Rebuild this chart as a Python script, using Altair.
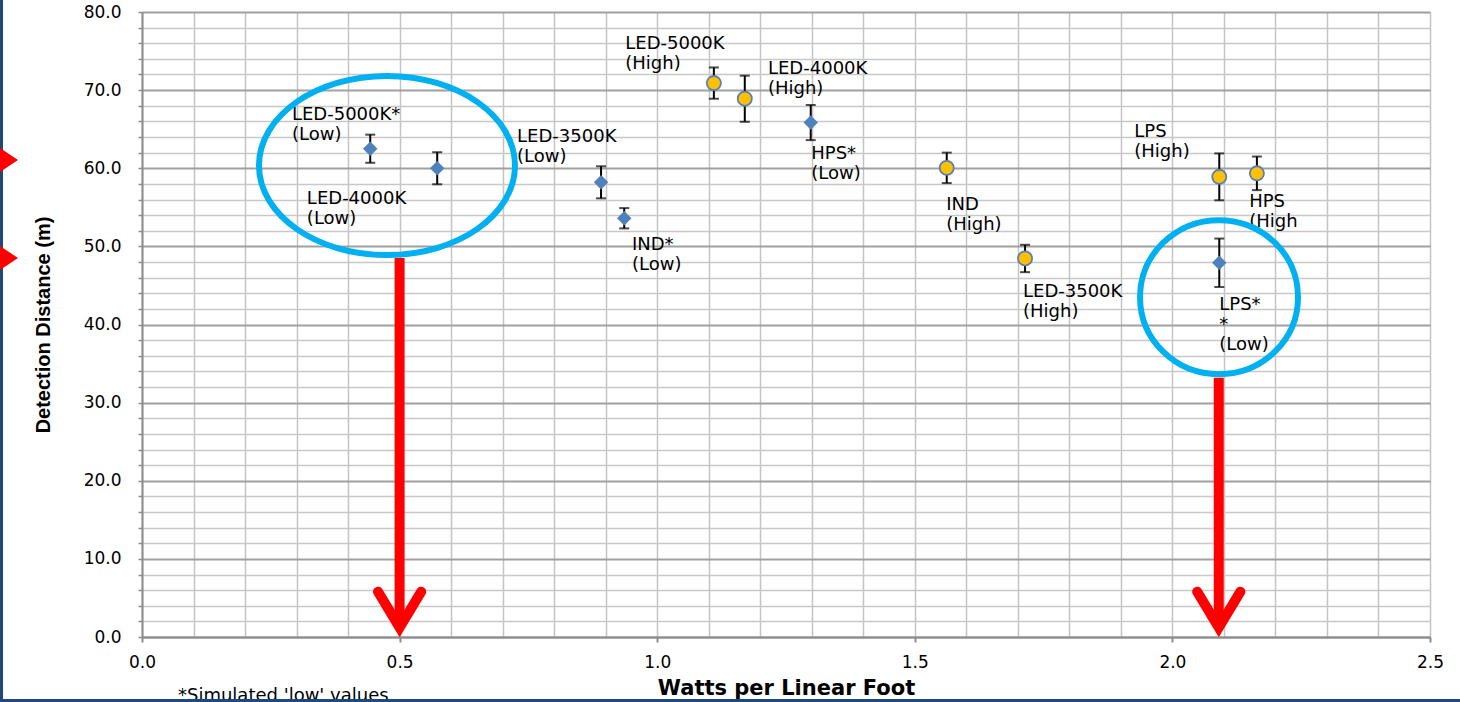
import altair as alt
import pandas as pd

# Lamp types: power (watts per linear foot) vs. mean detection distance (m), with +/- error
lamp_label = [
    "LED-5000K*\n(Low)", "LED-4000K\n(Low)", "LED-3500K\n(Low)", "IND*\n(Low)",
    "LED-5000K\n(High)", "LED-4000K\n(High)", "HPS*\n(Low)", "IND\n(High)",
    "LED-3500K\n(High)", "LPS\n(High)", "HPS\n(High", "LPS*\n*\n(Low)",
]
level = ["Low", "Low", "Low", "Low", "High", "High", "Low", "High", "High", "High", "High", "Low"]
watts = [0.443, 0.573, 0.891, 0.936, 1.110, 1.170, 1.298, 1.562, 1.714, 2.091, 2.164, 2.091]
distance = [62.5, 60.0, 58.2, 53.6, 70.9, 68.9, 65.85, 60.05, 48.45, 58.9, 59.35, 47.9]
err = [1.8, 2.05, 2.05, 1.3, 2.0, 2.95, 2.25, 1.95, 1.75, 3.0, 2.15, 3.1]

# Where each label's first line starts (axis units)
label_x = [0.291, 0.320, 0.728, 0.951, 0.938, 1.215, 1.299, 1.561, 1.710, 1.926, 2.149, 2.091]
label_y = [66.2, 55.4, 63.4, 49.5, 75.3, 72.1, 61.2, 54.7, 43.5, 64.0, 55.0, 41.9]

# Highlight rings and the arrows dropping from them to the x axis
ring_x = [0.4755, 2.0905]
ring_y = [60.35, 43.5]
arrow_x = [0.5, 2.09]
arrow_top = [48.5, 33.2]

FONT = "DejaVu Sans"
X_TITLE = "Watts per Linear Foot"
Y_TITLE = "Detection Distance (m)"

df = pd.DataFrame({
    "label": lamp_label, "level": level, "watts": watts, "distance": distance,
    "lo": [d - e for d, e in zip(distance, err)],
    "hi": [d + e for d, e in zip(distance, err)],
    "lx": label_x, "ly": label_y,
})

x_ticks = [round(i * 0.1, 1) for i in range(26)]
y_ticks = list(range(0, 81, 2))
half_test = "abs(datum.value * 2 - round(datum.value * 2)) < 0.000001"
ten_test = "datum.value % 10 === 0"

x_scale = alt.Scale(domain=[0, 2.5], nice=False, zero=False)
y_scale = alt.Scale(domain=[0, 80], nice=False)

x_axis = alt.Axis(
    values=x_ticks, tickCount=len(x_ticks),
    labelExpr=f"{half_test} ? format(datum.value, '.1f') : ''",
    labelFont=FONT, labelFontSize=17, labelColor="#000000", labelPadding=12,
    labelFlush=False, labelOverlap=False,
    tickColor="#8c8c8c", tickWidth=2, tickSize=5,
    tickOpacity={"condition": {"test": half_test, "value": 1}, "value": 0},
    domainColor="#8c8c8c", domainWidth=2,
    gridColor="#c4c4c4", gridWidth=1.5,
    titleFont=FONT, titleFontSize=21,
    titleFontWeight="bold", titleColor="#000000", titlePadding=7,
)
y_axis = alt.Axis(
    values=y_ticks, tickCount=len(y_ticks),
    labelExpr=f"{ten_test} ? format(datum.value, '.1f') : ''",
    labelFont=FONT, labelFontSize=17, labelColor="#000000", labelPadding=17,
    labelFlush=False, labelOverlap=False,
    tickColor="#8c8c8c", tickWidth=1.5, tickSize=4,
    domainColor="#8c8c8c", domainWidth=2,
    gridColor={"condition": {"test": ten_test, "value": "#a0a0a0"}, "value": "#c8c8c8"},
    gridWidth={"condition": {"test": ten_test, "value": 2}, "value": 1.5},
    titleFont="Liberation Sans", titleFontSize=20,
    titleFontWeight="bold", titleColor="#000000", titlePadding=30,
)


def xq(field):
    return alt.X(field, type="quantitative", scale=x_scale, title=X_TITLE)


def yq(field):
    return alt.Y(field, type="quantitative", scale=y_scale, title=Y_TITLE)


base = alt.Chart(df)

grid = base.mark_point(opacity=0).encode(
    x=alt.X("watts:Q", scale=x_scale, axis=x_axis, title=X_TITLE),
    y=alt.Y("distance:Q", scale=y_scale, axis=y_axis, title=Y_TITLE),
)

bars = base.mark_rule(color="#000000", strokeWidth=2).encode(
    x=xq("watts"), y=yq("lo"), y2="hi:Q",
)
caps_lo = base.mark_tick(color="#000000", orient="horizontal", size=10, thickness=2).encode(
    x=xq("watts"), y=yq("lo")
)
caps_hi = base.mark_tick(color="#000000", orient="horizontal", size=10, thickness=2).encode(
    x=xq("watts"), y=yq("hi")
)

low_pts = base.transform_filter("datum.level === 'Low'").mark_point(
    shape="diamond", filled=True, fill="#4f81bd", color="#4f81bd", size=210, opacity=1
).encode(x=xq("watts"), y=yq("distance"))

high_pts = base.transform_filter("datum.level === 'High'").mark_point(
    shape="circle", filled=True, fill="#ffc000", stroke="#5a7fb5", strokeWidth=1.8,
    size=200, opacity=1
).encode(x=xq("watts"), y=yq("distance"))

labels = base.mark_text(
    font=FONT, fontSize=18, color="#000000", align="left", baseline="alphabetic",
    lineBreak="\n", lineHeight=20,
).encode(x=xq("lx"), y=yq("ly"), text="label:N")

# Red arrows: shaft plus a chevron head whose tip sits on the x axis
arrows = pd.DataFrame({"ax": arrow_x, "top": arrow_top, "tip": [1.2] * len(arrow_x)})
shafts = alt.Chart(arrows).mark_rule(color="#ff0000", strokeWidth=10).encode(
    x=xq("ax"), y=yq("top"), y2="tip:Q",
)
heads = alt.Chart(arrows).transform_calculate(
    id="datum.ax"
).transform_fold(["-1", "0", "1"], as_=["side", "k"]).transform_calculate(
    hx="datum.ax + toNumber(datum.side) * 0.042",
    hy="datum.side === '0' ? datum.tip : datum.tip + 4.6",
    ord="datum.side === '-1' ? 0 : (datum.side === '0' ? 1 : 2)",
).mark_line(
    color="#ff0000", strokeWidth=10, strokeCap="round", strokeJoin="miter", strokeMiterLimit=10
).encode(x=xq("hx"), y=yq("hy"), detail="id:N", order="ord:Q")

ring_paths = [
    ("M-1,0 A1,0.70 0 1,1 1,0 A1,0.70 0 1,1 -1,0 Z", 256 ** 2),
    ("M-1,0 A1,0.975 0 1,1 1,0 A1,0.975 0 1,1 -1,0 Z", 158 ** 2),
]
rings = []
for (path, sz), rx, ry in zip(ring_paths, ring_x, ring_y):
    rings.append(
        alt.Chart(pd.DataFrame({"rx": [rx], "ry": [ry]})).mark_point(
            shape=path, size=sz, filled=False, stroke="#00b0f0", strokeWidth=6, opacity=1
        ).encode(x=xq("rx"), y=yq("ry"))
    )

# Slide furniture around the chart: footnote, frame lines and side markers
one = pd.DataFrame({"a": [0]})
footnote = alt.Chart(pd.DataFrame({"t": ["*Simulated 'low' values"]})).mark_text(
    font=FONT, fontSize=18, color="#000000", align="left", baseline="alphabetic"
).encode(x=alt.value(36), y=alt.value(689), text="t:N")

frame_left = alt.Chart(one).mark_rule(color="#1f497d", strokeWidth=3).encode(
    x=alt.value(-140.5), y=alt.value(-12), y2=alt.value(690)
)
frame_bottom = alt.Chart(one).mark_rule(color="#1f497d", strokeWidth=3).encode(
    x=alt.value(-142), x2=alt.value(1318), y=alt.value(688.5)
)

markers = [
    alt.Chart(one).mark_point(
        shape="M-0.75,-1 L0.75,0 L-0.75,1 Z", size=576, filled=True, fill="#ff0000",
        color="#ff0000", opacity=1
    ).encode(x=alt.value(-133), y=alt.value(my))
    for my in (148, 246)
]

chart = alt.layer(
    grid, bars, caps_lo, caps_hi, low_pts, high_pts, labels,
    *rings, shafts, heads, footnote, frame_left, frame_bottom, *markers,
).properties(
    width=1288,
    height=625,
    padding={"left": 142, "top": 12, "right": 30, "bottom": 65},
    autosize=alt.AutoSizeParams(type="none"),
    background="#ffffff",
).configure_view(stroke=None)

chart.save("out.html", embed_options={"renderer": "svg", "actions": False})
